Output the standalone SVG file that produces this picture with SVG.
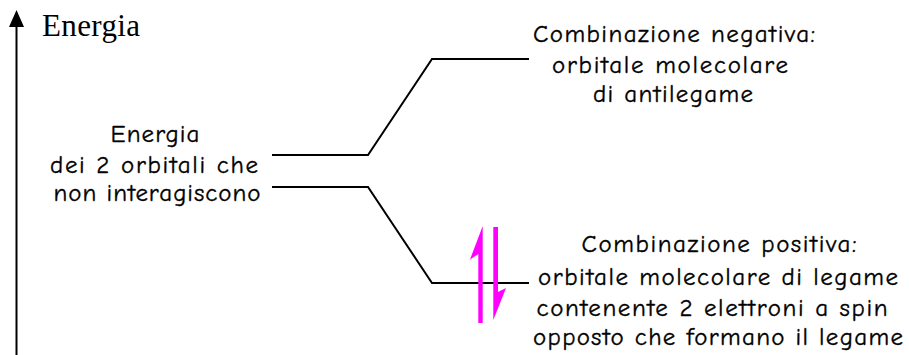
<svg xmlns="http://www.w3.org/2000/svg" width="909" height="355" viewBox="0 0 909 355">
<style>
.lbl{font-family:"Comic Sans MS","Comic Neue","DejaVu Sans",sans-serif;font-size:25px;fill:#000;stroke:#000;stroke-width:0.35;text-anchor:middle}
.ax{font-family:"Liberation Serif","Times New Roman",serif;font-size:31px;fill:#000}
.lv{fill:none;stroke:#000;stroke-width:2}
.sp{fill:#ff00ff;stroke:none}
</style>
<g id="axis">
<line x1="16.5" y1="355" x2="16.5" y2="26" stroke="#000" stroke-width="2"/>
<path d="M9,27 L16.5,10 L24,27 Z" fill="#000"/>
<text class="ax" x="42" y="36" textLength="98">Energia</text>
</g>
<g id="connectors">
<path class="lv" d="M272,155 L368,155 L432,59 L529,59"/>
<path class="lv" d="M272,187 L368,187 L432,283 L529,283"/>
</g>
<g id="atomic">
<text class="lbl" x="155" y="142" textLength="89">Energia</text>
<text class="lbl" x="154" y="173" textLength="208">dei 2 orbitali che</text>
<text class="lbl" x="157" y="201" textLength="207">non interagiscono</text>
</g>
<g id="antibonding">
<text class="lbl" x="674" y="42" textLength="282">Combinazione negativa:</text>
<text class="lbl" x="670" y="73" textLength="236">orbitale molecolare</text>
<text class="lbl" x="673" y="102" textLength="160">di antilegame</text>
</g>
<g id="bonding">
<text class="lbl" x="719" y="252" textLength="275">Combinazione positiva:</text>
<text class="lbl" x="718" y="285" textLength="360">orbitale molecolare di legame</text>
<text class="lbl" x="712" y="316" textLength="351">contenente 2 elettroni a spin</text>
<text class="lbl" x="718" y="345" textLength="370">opposto che formano il legame</text>
</g>
<g id="electrons">
<path class="sp" d="M478.3,323 L482.7,323 L482.7,226 L470,259.5 L478.3,254 Z"/>
<path class="sp" d="M493.3,227 L498,227 L498,292 L506,288 L493.3,320 Z"/>
</g>
</svg>
